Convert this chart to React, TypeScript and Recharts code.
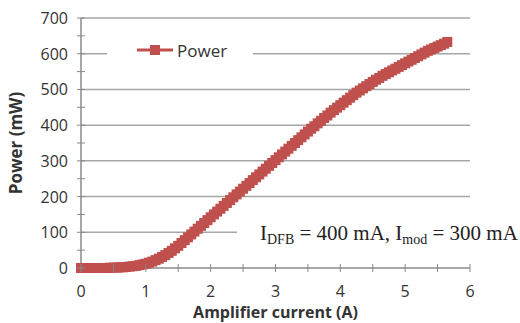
import React from 'react';
import { LineChart, Line, XAxis, YAxis, CartesianGrid, Legend, Label } from 'recharts';

// Amplifier current (A) and output power (mW)
const CURRENT = [
  0, 0.05, 0.1, 0.15, 0.2, 0.25, 0.3, 0.35, 0.4, 0.45,
  0.5, 0.55, 0.6, 0.65, 0.7, 0.75, 0.8, 0.85, 0.9, 0.95,
  1.0, 1.05, 1.1, 1.15, 1.2, 1.25, 1.3, 1.35, 1.4, 1.45,
  1.5, 1.55, 1.6, 1.65, 1.7, 1.75, 1.8, 1.85, 1.9, 1.95,
  2.0, 2.05, 2.1, 2.15, 2.2, 2.25, 2.3, 2.35, 2.4, 2.45,
  2.5, 2.55, 2.6, 2.65, 2.7, 2.75, 2.8, 2.85, 2.9, 2.95,
  3.0, 3.05, 3.1, 3.15, 3.2, 3.25, 3.3, 3.35, 3.4, 3.45,
  3.5, 3.55, 3.6, 3.65, 3.7, 3.75, 3.8, 3.85, 3.9, 3.95,
  4.0, 4.05, 4.1, 4.15, 4.2, 4.25, 4.3, 4.35, 4.4, 4.45,
  4.5, 4.55, 4.6, 4.65, 4.7, 4.75, 4.8, 4.85, 4.9, 4.95,
  5.0, 5.05, 5.1, 5.15, 5.2, 5.25, 5.3, 5.35, 5.4, 5.45,
  5.5, 5.55, 5.6, 5.65,
];
const POWER = [
  0, 0, 0, 0, 0, 0, 0, 0, 0, 1,
  1, 1, 2, 2, 3, 4, 5, 6, 8, 10,
  12, 15, 18, 22, 26, 31, 36, 42, 48, 55,
  62, 70, 78, 86, 94, 102, 110, 118, 126, 134,
  142, 150, 158, 166, 174, 182, 190, 198, 206, 214,
  222, 230, 238, 246, 254, 262, 270, 278, 286, 294,
  302, 310, 318, 326, 334, 342, 350, 358, 366, 374,
  382, 390, 397, 405, 412, 420, 427, 435, 442, 449,
  456, 463, 470, 477, 484, 491, 497, 503, 509, 515,
  521, 527, 532, 538, 543, 548, 553, 558, 563, 568,
  573, 578, 583, 588, 593, 598, 603, 608, 612, 616,
  620, 624, 628, 633,
];
const X_TICKS = [0, 0.5, 1, 1.5, 2, 2.5, 3, 3.5, 4, 4.5, 5, 5.5, 6];
const Y_TICKS = [0, 50, 100, 150, 200, 250, 300, 350, 400, 450, 500, 550, 600, 650, 700];
const GRID_VALUES = [100, 200, 300, 400, 500, 600, 700];

const data = CURRENT.map((c, i) => ({ current: c, power: POWER[i] }));

const RED = '#C0504D';
const AXIS = '#8A8A8A';
const TEXT = '#333333';
const FONT = '"Open Sans", sans-serif';
const Y_MARGIN = 13;

const SquareDot = (props: any) => {
  const { cx, cy, index } = props;
  if (cx == null || cy == null) return null;
  return <rect key={`dot-${index}`} x={cx - 5} y={cy - 5} width={10} height={10} fill={RED} />;
};

const YTick = (props: any) => {
  const { x, y, payload } = props;
  const axisX = x + Y_MARGIN;
  const major = payload.value % 100 === 0;
  return (
    <g>
      <line x1={axisX - 4} x2={axisX + 4} y1={y} y2={y} stroke={AXIS} />
      {major && (
        <text x={x} y={y} dy={6} textAnchor="end" fontSize={16} fontFamily={FONT} fill={TEXT}>
          {payload.value}
        </text>
      )}
    </g>
  );
};

const XTick = (props: any) => {
  const { x, y, payload } = props;
  const major = Number.isInteger(payload.value);
  return (
    <g>
      <line x1={x} x2={x} y1={y - 4} y2={y + 4} stroke={AXIS} />
      {major && (
        <text x={x} y={y + 29} textAnchor="middle" fontSize={16} fontFamily={FONT} fill={TEXT}>
          {payload.value}
        </text>
      )}
    </g>
  );
};

const LegendContent = () => (
  <div style={{ display: 'flex', alignItems: 'center', background: '#fff', width: 146, height: 24, fontFamily: FONT, fontSize: 17, color: TEXT }}>
    <svg width={36} height={14} style={{ marginLeft: 30, marginRight: 4 }}>
      <line x1={0} x2={36} y1={7} y2={7} stroke={RED} strokeWidth={3} />
      <rect x={13} y={2} width={10} height={10} fill={RED} />
    </svg>
    <span>Power</span>
  </div>
);

export default function App() {
  return (
    <div style={{ position: 'absolute', left: 0, top: 0, width: 520, height: 323, background: '#fff' }}>
      <LineChart width={520} height={323} data={data} margin={{ top: 18, right: 50, bottom: 0, left: 0 }}>
        <CartesianGrid vertical={false} horizontalValues={GRID_VALUES} stroke="#A6A6A6" strokeWidth={1.5} />
        <XAxis
          dataKey="current"
          type="number"
          domain={[0, 6]}
          ticks={X_TICKS}
          height={55}
          tickSize={0}
          tickMargin={0}
          tickLine={false}
          axisLine={{ stroke: AXIS, strokeWidth: 1.5 }}
          tick={<XTick />}
          interval={0}
        >
          <Label
            content={(p: any) => {
              const vb = p.viewBox;
              return (
                <text x={vb.x + vb.width / 2} y={318} textAnchor="middle" fontSize={16} fontWeight="bold" fontFamily={FONT} fill={TEXT}>
                  Amplifier current (A)
                </text>
              );
            }}
          />
        </XAxis>
        <YAxis
          type="number"
          domain={[0, 700]}
          ticks={Y_TICKS}
          width={81}
          tickSize={0}
          tickMargin={Y_MARGIN}
          tickLine={false}
          axisLine={{ stroke: AXIS, strokeWidth: 1.5 }}
          tick={<YTick />}
          interval={0}
        >
          <Label
            content={(p: any) => {
              const vb = p.viewBox;
              const cx = 22;
              const cy = vb.y + vb.height / 2;
              return (
                <text x={cx} y={cy} transform={`rotate(-90, ${cx}, ${cy})`} textAnchor="middle" fontSize={17} fontWeight="bold" fontFamily={FONT} fill={TEXT}>
                  Power (mW)
                </text>
              );
            }}
          />
        </YAxis>
        <Legend
          verticalAlign="middle"
          layout="horizontal"
          content={<LegendContent />}
          wrapperStyle={{ left: 107, top: 38, width: 146, height: 24 }}
        />
        <Line
          type="linear"
          dataKey="power"
          name="Power"
          stroke={RED}
          strokeWidth={2.5}
          dot={SquareDot}
          activeDot={false}
          isAnimationActive={false}
        />
      </LineChart>
      <div
        style={{
          position: 'absolute',
          left: 237,
          top: 220,
          paddingLeft: 23,
          paddingRight: 2,
          background: '#fff',
          fontFamily: '"Liberation Serif", serif',
          fontSize: 21,
          lineHeight: '26px',
          color: '#222',
          whiteSpace: 'nowrap',
        }}
      >
        I<sub style={{ fontSize: 14, verticalAlign: -4 }}>DFB</sub> = 400 mA, I<sub style={{ fontSize: 14, verticalAlign: -4 }}>mod</sub> = 300 mA
      </div>
    </div>
  );
}
